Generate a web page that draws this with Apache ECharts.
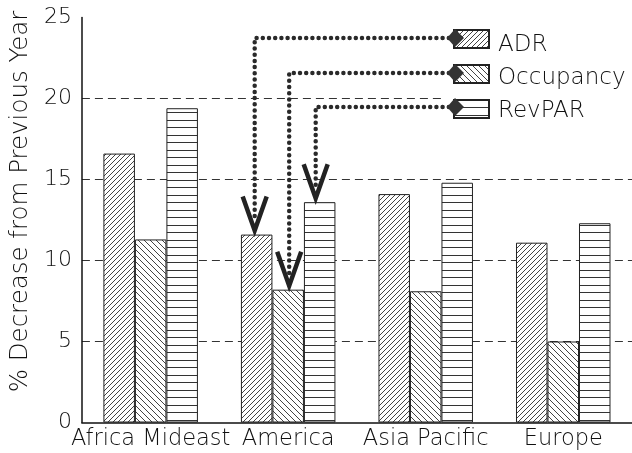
<!DOCTYPE html>
<html>
<head>
<meta charset="utf-8">
<script src="https://cdn.jsdelivr.net/npm/echarts@6/dist/echarts.min.js"></script>
<style>
html,body{margin:0;padding:0;background:#fff;}
#c{width:632px;height:453px;}
</style>
</head>
<body>
<div id="c"></div>
<script>
const categories = ['Africa Mideast', 'America', 'Asia Pacific', 'Europe'];
const seriesNames = ['ADR', 'Occupancy', 'RevPAR'];
const adr = [16.6, 11.6, 14.1, 11.1];
const occupancy = [11.3, 8.2, 8.1, 5.0];
const revpar = [19.4, 13.6, 14.8, 12.3];
const yTicks = [0, 5, 10, 15, 20, 25];
const yAxisTitle = '% Decrease from Previous Year';

const FONT = 'DejaVu Sans';
const TXT = '#111';

function makePattern(type) {
  const c = document.createElement('canvas');
  const ctx = c.getContext('2d');
  if (type === 'h') {
    c.width = 8; c.height = 15;
    ctx.fillStyle = '#fff'; ctx.fillRect(0, 0, 8, 15);
    ctx.fillStyle = '#333';
    ctx.fillRect(0, 0, 8, 1);
    ctx.fillRect(0, 7, 8, 1);
  } else if (type === 'f') {
    const s = 5;
    c.width = s; c.height = s;
    ctx.fillStyle = '#fff'; ctx.fillRect(0, 0, s, s);
    ctx.fillStyle = '#444';
    for (let x = 0; x < s; x++) ctx.fillRect(x, s - 1 - x, 1, 1);
  } else {
    const s = 6;
    c.width = s; c.height = s;
    ctx.fillStyle = '#fff'; ctx.fillRect(0, 0, s, s);
    ctx.fillStyle = '#444';
    for (let x = 0; x < s; x++) ctx.fillRect(x, x, 1, 1);
  }
  return { image: c, repeat: 'repeat' };
}

const patterns = [makePattern('f'), makePattern('b'), makePattern('h')];
const values = [adr, occupancy, revpar];

const chart = echarts.init(document.getElementById('c'), null, { renderer: 'canvas' });

const legendLeft = 453, legendTop = 29, legendW = 35, legendH = 18, legendGap = 15;

const option = {
  animation: false,
  backgroundColor: '#fff',
  grid: { left: 74, right: -9, top: 17.5, bottom: 30.5, containLabel: false },
  legend: {
    data: seriesNames,
    orient: 'vertical',
    left: legendLeft,
    top: legendTop,
    padding: 0,
    itemWidth: legendW,
    itemHeight: legendH,
    itemGap: legendGap,
    icon: 'rect',
    formatter: () => '',
    selectedMode: false
  },
  xAxis: {
    type: 'category',
    data: categories,
    axisTick: { show: false },
    axisLine: { lineStyle: { color: '#111', width: 1.5 } },
    axisLabel: { interval: 0, fontFamily: FONT, fontSize: 22.5, color: TXT, margin: 5, fontWeight: 200 },
    splitLine: { show: false }
  },
  yAxis: {
    type: 'value',
    min: yTicks[0],
    max: yTicks[yTicks.length - 1],
    interval: yTicks[1] - yTicks[0],
    name: yAxisTitle,
    nameLocation: 'middle',
    nameRotate: 90,
    nameGap: 40,
    nameTextStyle: { fontFamily: FONT, fontSize: 24.5, color: TXT, fontWeight: 200, padding: [0, 0, 0, 37] },
    axisLine: { show: true, lineStyle: { color: '#111', width: 1.5 } },
    axisTick: { show: false },
    axisLabel: { fontFamily: FONT, fontSize: 22, color: TXT, margin: 10, fontWeight: 200, padding: [6, 0, 0, 0] },
    splitLine: {
      show: true,
      lineStyle: {
        color: ['rgba(0,0,0,0)', '#333', '#333', '#333', '#333', 'rgba(0,0,0,0)'],
        width: 1,
        type: [8, 5]
      }
    }
  },
  series: seriesNames.map((name, i) => ({
    name: name,
    type: 'bar',
    data: values[i],
    barWidth: 31.5,
    barGap: '0%',
    itemStyle: { color: patterns[i], borderColor: '#222', borderWidth: 1 },
    emphasis: { disabled: true }
  }))
};

chart.setOption(option);

const rowY = [38, 73, 107];
const dxs = [-2, 1, -4];
const graphics = [];
const markerX = 455;

graphics.push({
  type: 'rect', z: 3,
  shape: { x: 443, y: 24, width: 200, height: 94 },
  style: { fill: '#fff' }
});
seriesNames.forEach((name, i) => {
  const boxTop = legendTop + i * (legendH + legendGap);
  graphics.push({
    type: 'text', z: 5,
    x: legendLeft + legendW + 10,
    y: boxTop + legendH / 2 + 7,
    style: { text: name, font: '200 23px "DejaVu Sans"', fill: TXT, textVerticalAlign: 'middle', verticalAlign: 'middle' }
  });
});

for (let i = 0; i < 3; i++) {
  const data = chart.getModel().getSeriesByIndex(i).getData();
  const l = data.getItemLayout(1);
  const cx = l.x + l.width / 2 + dxs[i];
  const top = Math.min(l.y, l.y + l.height);
  const tip = top - 4;
  graphics.push({
    type: 'polyline', z: 100,
    shape: { points: [[markerX, rowY[i]], [cx, rowY[i]], [cx, tip - 12]] },
    style: { stroke: '#2a2a2a', lineWidth: 4.5, lineDash: [0, 6.2], lineCap: 'round', fill: null }
  });
  graphics.push({
    type: 'polyline', z: 101,
    shape: { points: [[cx - 12, tip - 34], [cx, tip], [cx + 12, tip - 34]] },
    style: { stroke: '#222', lineWidth: 4.5, lineJoin: 'miter', fill: null }
  });
  graphics.push({
    type: 'polygon', z: 101,
    shape: { points: [[markerX - 8, rowY[i]], [markerX, rowY[i] - 9], [markerX + 9, rowY[i]], [markerX, rowY[i] + 9]] },
    style: { fill: '#333' }
  });
}
chart.setOption({ graphic: graphics });
</script>
</body>
</html>
